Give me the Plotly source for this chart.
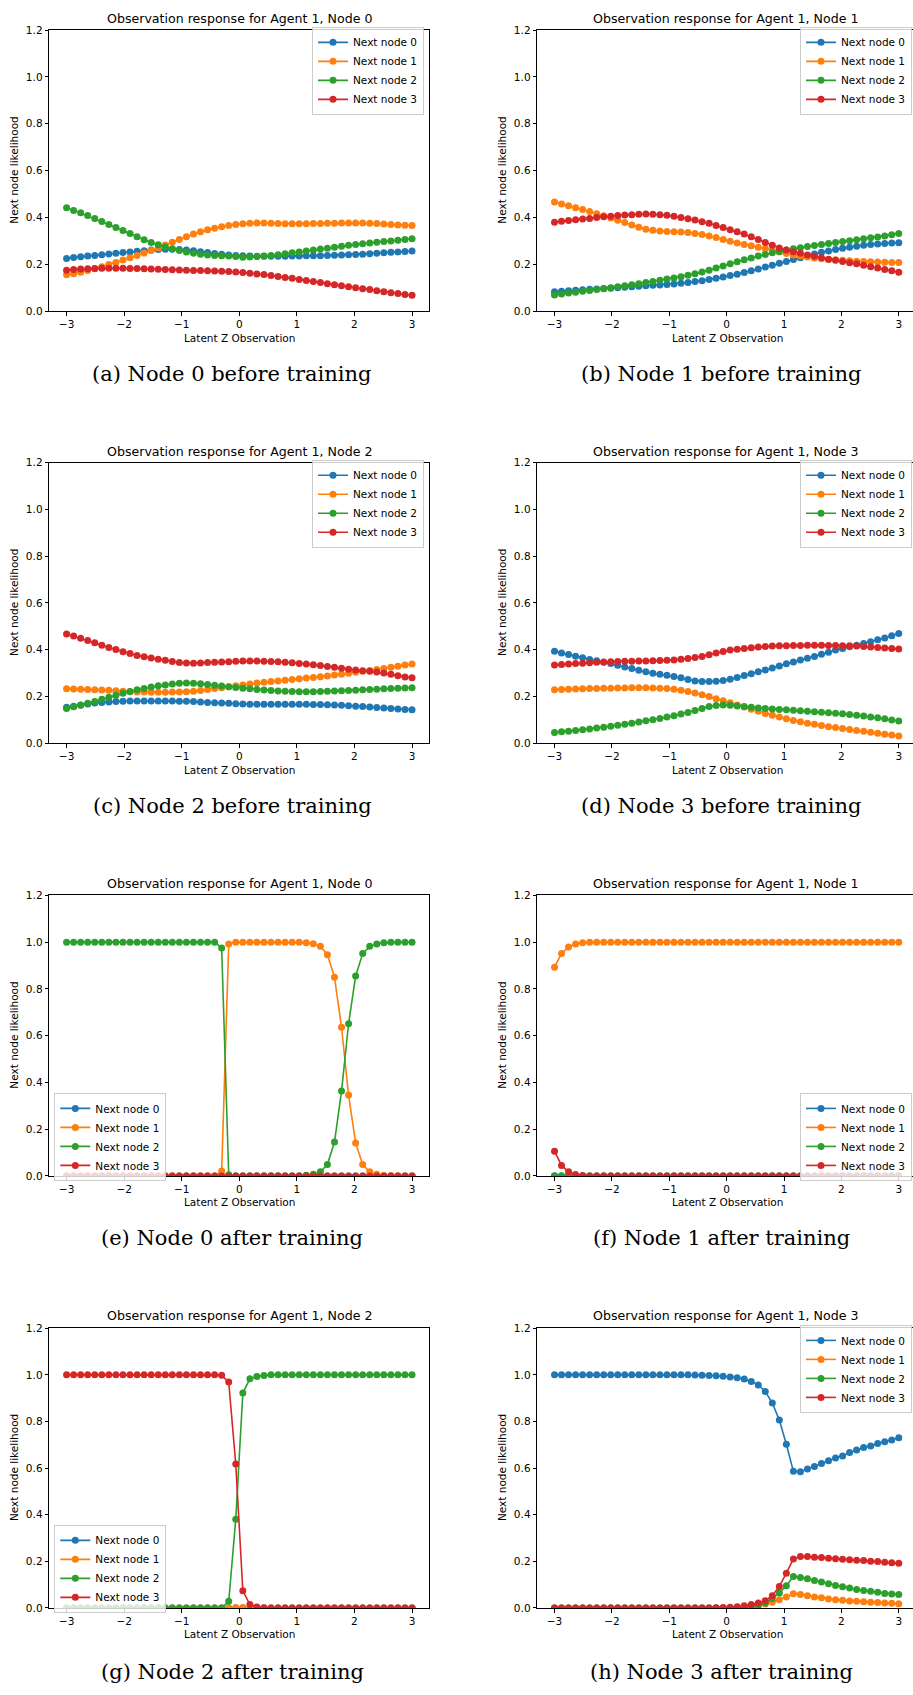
import numpy as np
import plotly.graph_objects as go

# ---------------- data ----------------
Z = np.linspace(-3, 3, 50)  # latent Z observation grid

SERIES_NAMES = ["Next node 0", "Next node 1", "Next node 2", "Next node 3"]
COLORS = ["#1f77b4", "#ff7f0e", "#2ca02c", "#d62728"]

TITLES = [
    "Observation response for Agent 1, Node 0",
    "Observation response for Agent 1, Node 1",
    "Observation response for Agent 1, Node 2",
    "Observation response for Agent 1, Node 3",
    "Observation response for Agent 1, Node 0",
    "Observation response for Agent 1, Node 1",
    "Observation response for Agent 1, Node 2",
    "Observation response for Agent 1, Node 3",
]
CAPTIONS = [
    "(a) Node 0 before training",
    "(b) Node 1 before training",
    "(c) Node 2 before training",
    "(d) Node 3 before training",
    "(e) Node 0 after training",
    "(f) Node 1 after training",
    "(g) Node 2 after training",
    "(h) Node 3 after training",
]
X_TICKS = [-3, -2, -1, 0, 1, 2, 3]
Y_TICKS = [0.0, 0.2, 0.4, 0.6, 0.8, 1.0, 1.2]
X_LABEL = "Latent Z Observation"
Y_LABEL = "Next node likelihood"

# (a) Node 0 before training
a_next0 = [0.225, 0.229, 0.232, 0.235, 0.238, 0.241, 0.244, 0.247, 0.250, 0.253,
           0.256, 0.258, 0.261, 0.263, 0.264, 0.264, 0.263, 0.261, 0.258, 0.254,
           0.250, 0.246, 0.243, 0.240, 0.238, 0.236, 0.235, 0.234, 0.234, 0.234,
           0.234, 0.234, 0.235, 0.235, 0.236, 0.236, 0.237, 0.238, 0.239, 0.240,
           0.241, 0.242, 0.243, 0.245, 0.247, 0.249, 0.251, 0.253, 0.255, 0.257]
a_next1 = [0.155, 0.160, 0.166, 0.173, 0.181, 0.190, 0.199, 0.208, 0.218, 0.228,
           0.238, 0.248, 0.259, 0.270, 0.282, 0.294, 0.306, 0.318, 0.329, 0.339,
           0.347, 0.354, 0.360, 0.366, 0.370, 0.373, 0.375, 0.376, 0.376, 0.375,
           0.374, 0.373, 0.373, 0.373, 0.373, 0.374, 0.374, 0.375, 0.375, 0.376,
           0.376, 0.376, 0.376, 0.375, 0.374, 0.372, 0.370, 0.368, 0.367, 0.366]
a_next2 = [0.442, 0.430, 0.420, 0.408, 0.396, 0.383, 0.370, 0.357, 0.344, 0.331,
           0.318, 0.305, 0.293, 0.283, 0.274, 0.266, 0.259, 0.252, 0.247, 0.243,
           0.240, 0.238, 0.236, 0.235, 0.233, 0.230, 0.231, 0.233, 0.235, 0.238,
           0.241, 0.245, 0.249, 0.253, 0.257, 0.261, 0.265, 0.269, 0.273, 0.277,
           0.281, 0.285, 0.288, 0.291, 0.294, 0.297, 0.300, 0.303, 0.306, 0.309]
a_next3 = [0.175, 0.178, 0.180, 0.181, 0.182, 0.183, 0.183, 0.183, 0.183, 0.182,
           0.182, 0.181, 0.180, 0.179, 0.178, 0.177, 0.176, 0.175, 0.174, 0.173,
           0.172, 0.171, 0.170, 0.169, 0.167, 0.165, 0.162, 0.159, 0.156, 0.152,
           0.148, 0.144, 0.140, 0.135, 0.131, 0.126, 0.122, 0.117, 0.113, 0.108,
           0.104, 0.100, 0.096, 0.092, 0.087, 0.083, 0.079, 0.075, 0.071, 0.068]

# (b) Node 1 before training
b_next0 = [0.083, 0.085, 0.087, 0.089, 0.091, 0.093, 0.095, 0.097, 0.098, 0.100,
           0.102, 0.104, 0.106, 0.108, 0.110, 0.112, 0.114, 0.116, 0.119, 0.122,
           0.126, 0.130, 0.135, 0.140, 0.146, 0.152, 0.158, 0.165, 0.172, 0.180,
           0.188, 0.196, 0.204, 0.212, 0.220, 0.228, 0.236, 0.244, 0.251, 0.257,
           0.263, 0.268, 0.273, 0.277, 0.281, 0.284, 0.287, 0.289, 0.291, 0.292]
b_next1 = [0.466, 0.458, 0.450, 0.442, 0.434, 0.425, 0.416, 0.407, 0.398, 0.388,
           0.378, 0.368, 0.358, 0.350, 0.345, 0.342, 0.340, 0.339, 0.338, 0.336,
           0.332, 0.327, 0.321, 0.314, 0.306, 0.298, 0.291, 0.285, 0.279, 0.273,
           0.267, 0.260, 0.253, 0.246, 0.240, 0.235, 0.231, 0.227, 0.224, 0.221,
           0.219, 0.217, 0.215, 0.213, 0.212, 0.211, 0.210, 0.209, 0.208, 0.208]
b_next2 = [0.069, 0.073, 0.077, 0.081, 0.085, 0.088, 0.092, 0.096, 0.100, 0.104,
           0.108, 0.113, 0.117, 0.122, 0.127, 0.132, 0.137, 0.142, 0.147, 0.153,
           0.160, 0.167, 0.175, 0.184, 0.193, 0.202, 0.211, 0.219, 0.227, 0.235,
           0.242, 0.249, 0.255, 0.261, 0.266, 0.271, 0.276, 0.280, 0.285, 0.289,
           0.293, 0.297, 0.301, 0.305, 0.309, 0.313, 0.317, 0.321, 0.326, 0.331]
b_next3 = [0.380, 0.384, 0.387, 0.390, 0.393, 0.396, 0.400, 0.403, 0.405, 0.408,
           0.410, 0.412, 0.414, 0.415, 0.414, 0.412, 0.409, 0.405, 0.400, 0.395,
           0.389, 0.382, 0.375, 0.366, 0.357, 0.348, 0.339, 0.329, 0.318, 0.306,
           0.293, 0.281, 0.270, 0.261, 0.254, 0.247, 0.240, 0.234, 0.228, 0.222,
           0.217, 0.212, 0.207, 0.202, 0.196, 0.190, 0.184, 0.178, 0.172, 0.166]

# (c) Node 2 before training
c_next0 = [0.153, 0.158, 0.163, 0.167, 0.171, 0.174, 0.176, 0.178, 0.179, 0.180,
           0.180, 0.180, 0.180, 0.180, 0.180, 0.180, 0.179, 0.179, 0.178, 0.176,
           0.174, 0.172, 0.171, 0.170, 0.168, 0.167, 0.166, 0.166, 0.166, 0.166,
           0.166, 0.166, 0.166, 0.166, 0.166, 0.165, 0.165, 0.164, 0.163, 0.162,
           0.160, 0.158, 0.156, 0.154, 0.152, 0.150, 0.148, 0.146, 0.144, 0.143]
c_next1 = [0.232, 0.231, 0.230, 0.229, 0.228, 0.227, 0.226, 0.224, 0.222, 0.220,
           0.219, 0.218, 0.217, 0.217, 0.217, 0.218, 0.219, 0.220, 0.222, 0.225,
           0.229, 0.233, 0.237, 0.241, 0.245, 0.249, 0.253, 0.257, 0.260, 0.263,
           0.266, 0.269, 0.272, 0.275, 0.278, 0.281, 0.284, 0.287, 0.291, 0.295,
           0.299, 0.303, 0.307, 0.311, 0.315, 0.319, 0.324, 0.329, 0.334, 0.338]
c_next2 = [0.148, 0.155, 0.162, 0.170, 0.178, 0.187, 0.196, 0.205, 0.213, 0.221,
           0.228, 0.234, 0.240, 0.245, 0.249, 0.253, 0.256, 0.257, 0.256, 0.254,
           0.251, 0.247, 0.244, 0.241, 0.238, 0.235, 0.232, 0.229, 0.227, 0.225,
           0.223, 0.222, 0.221, 0.220, 0.220, 0.220, 0.221, 0.222, 0.223, 0.224,
           0.225, 0.226, 0.228, 0.229, 0.230, 0.232, 0.233, 0.235, 0.236, 0.237]
c_next3 = [0.467, 0.458, 0.449, 0.439, 0.429, 0.419, 0.409, 0.400, 0.391, 0.383,
           0.375, 0.369, 0.364, 0.359, 0.354, 0.349, 0.345, 0.343, 0.342, 0.343,
           0.345, 0.346, 0.347, 0.348, 0.350, 0.351, 0.351, 0.351, 0.350, 0.349,
           0.348, 0.346, 0.344, 0.341, 0.338, 0.335, 0.332, 0.328, 0.324, 0.320,
           0.316, 0.313, 0.310, 0.307, 0.304, 0.300, 0.294, 0.288, 0.283, 0.279]

# (d) Node 3 before training
d_next0 = [0.393, 0.386, 0.379, 0.372, 0.365, 0.358, 0.352, 0.346, 0.340, 0.333,
           0.326, 0.319, 0.312, 0.305, 0.299, 0.294, 0.290, 0.285, 0.279, 0.272,
           0.266, 0.263, 0.263, 0.265, 0.268, 0.273, 0.281, 0.289, 0.297, 0.305,
           0.313, 0.321, 0.330, 0.339, 0.347, 0.355, 0.363, 0.371, 0.380, 0.389,
           0.398, 0.405, 0.412, 0.419, 0.426, 0.434, 0.442, 0.450, 0.459, 0.469]
d_next1 = [0.228, 0.229, 0.230, 0.231, 0.232, 0.233, 0.234, 0.235, 0.235, 0.236,
           0.236, 0.237, 0.237, 0.237, 0.236, 0.235, 0.233, 0.230, 0.226, 0.221,
           0.214, 0.207, 0.199, 0.190, 0.181, 0.172, 0.163, 0.154, 0.145, 0.136,
           0.127, 0.119, 0.111, 0.104, 0.097, 0.091, 0.085, 0.080, 0.075, 0.070,
           0.066, 0.062, 0.058, 0.054, 0.050, 0.046, 0.042, 0.038, 0.034, 0.030]
d_next2 = [0.045, 0.048, 0.051, 0.054, 0.057, 0.060, 0.064, 0.068, 0.072, 0.076,
           0.080, 0.085, 0.090, 0.095, 0.100, 0.105, 0.111, 0.117, 0.124, 0.131,
           0.139, 0.148, 0.156, 0.161, 0.163, 0.162, 0.159, 0.156, 0.153, 0.150,
           0.148, 0.146, 0.144, 0.142, 0.140, 0.138, 0.136, 0.134, 0.132, 0.130,
           0.128, 0.125, 0.122, 0.119, 0.116, 0.112, 0.108, 0.104, 0.099, 0.094]
d_next3 = [0.334, 0.336, 0.338, 0.340, 0.342, 0.344, 0.346, 0.347, 0.348, 0.349,
           0.350, 0.350, 0.351, 0.351, 0.352, 0.353, 0.354, 0.356, 0.359, 0.362,
           0.366, 0.371, 0.378, 0.385, 0.392, 0.398, 0.402, 0.405, 0.408, 0.411,
           0.413, 0.415, 0.416, 0.417, 0.418, 0.418, 0.419, 0.419, 0.419, 0.418,
           0.418, 0.417, 0.416, 0.415, 0.413, 0.411, 0.409, 0.407, 0.405, 0.403]

# (e) Node 0 after training
e_next0 = [0.000, 0.000, 0.000, 0.000, 0.000, 0.000, 0.000, 0.000, 0.000, 0.000,
           0.000, 0.000, 0.000, 0.000, 0.000, 0.000, 0.000, 0.000, 0.000, 0.000,
           0.000, 0.000, 0.000, 0.000, 0.000, 0.000, 0.000, 0.000, 0.000, 0.000,
           0.000, 0.000, 0.000, 0.000, 0.000, 0.000, 0.000, 0.000, 0.000, 0.000,
           0.000, 0.000, 0.000, 0.000, 0.000, 0.000, 0.000, 0.000, 0.000, 0.000]
e_next1 = [0.000, 0.000, 0.000, 0.000, 0.000, 0.000, 0.000, 0.000, 0.000, 0.000,
           0.000, 0.000, 0.000, 0.000, 0.000, 0.000, 0.000, 0.000, 0.000, 0.000,
           0.000, 0.000, 0.021, 0.992, 1.000, 1.000, 1.000, 1.000, 1.000, 1.000,
           1.000, 1.000, 1.000, 1.000, 0.997, 0.993, 0.982, 0.946, 0.850, 0.636,
           0.346, 0.141, 0.049, 0.018, 0.007, 0.002, 0.001, 0.000, 0.000, 0.000]
e_next2 = [1.000, 1.000, 1.000, 1.000, 1.000, 1.000, 1.000, 1.000, 1.000, 1.000,
           1.000, 1.000, 1.000, 1.000, 1.000, 1.000, 1.000, 1.000, 1.000, 1.000,
           1.000, 1.000, 0.975, 0.005, 0.000, 0.000, 0.000, 0.000, 0.000, 0.000,
           0.000, 0.000, 0.000, 0.000, 0.003, 0.007, 0.018, 0.049, 0.145, 0.363,
           0.651, 0.855, 0.951, 0.982, 0.992, 0.997, 0.999, 1.000, 1.000, 1.000]
e_next3 = [0.000, 0.000, 0.000, 0.000, 0.000, 0.000, 0.000, 0.000, 0.000, 0.000,
           0.000, 0.000, 0.000, 0.000, 0.000, 0.000, 0.000, 0.000, 0.000, 0.000,
           0.000, 0.000, 0.000, 0.000, 0.000, 0.000, 0.000, 0.000, 0.000, 0.000,
           0.000, 0.000, 0.000, 0.000, 0.000, 0.000, 0.000, 0.000, 0.000, 0.000,
           0.000, 0.000, 0.000, 0.000, 0.000, 0.000, 0.000, 0.000, 0.000, 0.000]

# (f) Node 1 after training
f_next0 = [0.000, 0.000, 0.000, 0.000, 0.000, 0.000, 0.000, 0.000, 0.000, 0.000,
           0.000, 0.000, 0.000, 0.000, 0.000, 0.000, 0.000, 0.000, 0.000, 0.000,
           0.000, 0.000, 0.000, 0.000, 0.000, 0.000, 0.000, 0.000, 0.000, 0.000,
           0.000, 0.000, 0.000, 0.000, 0.000, 0.000, 0.000, 0.000, 0.000, 0.000,
           0.000, 0.000, 0.000, 0.000, 0.000, 0.000, 0.000, 0.000, 0.000, 0.000]
f_next1 = [0.893, 0.951, 0.979, 0.992, 0.997, 1.000, 1.000, 1.000, 1.000, 1.000,
           1.000, 1.000, 1.000, 1.000, 1.000, 1.000, 1.000, 1.000, 1.000, 1.000,
           1.000, 1.000, 1.000, 1.000, 1.000, 1.000, 1.000, 1.000, 1.000, 1.000,
           1.000, 1.000, 1.000, 1.000, 1.000, 1.000, 1.000, 1.000, 1.000, 1.000,
           1.000, 1.000, 1.000, 1.000, 1.000, 1.000, 1.000, 1.000, 1.000, 1.000]
f_next2 = [0.001, 0.001, 0.000, 0.000, 0.000, 0.000, 0.000, 0.000, 0.000, 0.000,
           0.000, 0.000, 0.000, 0.000, 0.000, 0.000, 0.000, 0.000, 0.000, 0.000,
           0.000, 0.000, 0.000, 0.000, 0.000, 0.000, 0.000, 0.000, 0.000, 0.000,
           0.000, 0.000, 0.000, 0.000, 0.000, 0.000, 0.000, 0.000, 0.000, 0.000,
           0.000, 0.000, 0.000, 0.000, 0.000, 0.000, 0.000, 0.000, 0.000, 0.000]
f_next3 = [0.106, 0.045, 0.018, 0.006, 0.002, 0.000, 0.000, 0.000, 0.000, 0.000,
           0.000, 0.000, 0.000, 0.000, 0.000, 0.000, 0.000, 0.000, 0.000, 0.000,
           0.000, 0.000, 0.000, 0.000, 0.000, 0.000, 0.000, 0.000, 0.000, 0.000,
           0.000, 0.000, 0.000, 0.000, 0.000, 0.000, 0.000, 0.000, 0.000, 0.000,
           0.000, 0.000, 0.000, 0.000, 0.000, 0.000, 0.000, 0.000, 0.000, 0.000]

# (g) Node 2 after training
g_next0 = [0.000, 0.000, 0.000, 0.000, 0.000, 0.000, 0.000, 0.000, 0.000, 0.000,
           0.000, 0.000, 0.000, 0.000, 0.000, 0.000, 0.000, 0.000, 0.000, 0.000,
           0.000, 0.000, 0.000, 0.000, 0.000, 0.000, 0.000, 0.000, 0.000, 0.000,
           0.000, 0.000, 0.000, 0.000, 0.000, 0.000, 0.000, 0.000, 0.000, 0.000,
           0.000, 0.000, 0.000, 0.000, 0.000, 0.000, 0.000, 0.000, 0.000, 0.000]
g_next1 = [0.000, 0.000, 0.000, 0.000, 0.000, 0.000, 0.000, 0.000, 0.000, 0.000,
           0.000, 0.000, 0.000, 0.000, 0.000, 0.000, 0.000, 0.000, 0.000, 0.000,
           0.000, 0.000, 0.000, 0.001, 0.002, 0.002, 0.001, 0.000, 0.000, 0.000,
           0.000, 0.000, 0.000, 0.000, 0.000, 0.000, 0.000, 0.000, 0.000, 0.000,
           0.000, 0.000, 0.000, 0.000, 0.000, 0.000, 0.000, 0.000, 0.000, 0.000]
g_next2 = [0.000, 0.000, 0.000, 0.000, 0.000, 0.000, 0.000, 0.000, 0.000, 0.000,
           0.000, 0.000, 0.000, 0.000, 0.000, 0.000, 0.000, 0.000, 0.000, 0.000,
           0.000, 0.000, 0.000, 0.028, 0.380, 0.922, 0.983, 0.993, 0.997, 1.000,
           1.000, 1.000, 1.000, 1.000, 1.000, 1.000, 1.000, 1.000, 1.000, 1.000,
           1.000, 1.000, 1.000, 1.000, 1.000, 1.000, 1.000, 1.000, 1.000, 1.000]
g_next3 = [1.000, 1.000, 1.000, 1.000, 1.000, 1.000, 1.000, 1.000, 1.000, 1.000,
           1.000, 1.000, 1.000, 1.000, 1.000, 1.000, 1.000, 1.000, 1.000, 1.000,
           1.000, 1.000, 0.998, 0.969, 0.617, 0.074, 0.014, 0.004, 0.001, 0.000,
           0.000, 0.000, 0.000, 0.000, 0.000, 0.000, 0.000, 0.000, 0.000, 0.000,
           0.000, 0.000, 0.000, 0.000, 0.000, 0.000, 0.000, 0.000, 0.000, 0.000]

# (h) Node 3 after training
h_next0 = [1.000, 1.000, 1.000, 1.000, 1.000, 1.000, 1.000, 1.000, 1.000, 1.000,
           1.000, 1.000, 1.000, 1.000, 1.000, 1.000, 1.000, 1.000, 1.000, 1.000,
           0.999, 0.998, 0.997, 0.996, 0.994, 0.991, 0.988, 0.982, 0.972, 0.957,
           0.929, 0.879, 0.806, 0.702, 0.586, 0.584, 0.596, 0.607, 0.620, 0.631,
           0.643, 0.652, 0.667, 0.678, 0.688, 0.695, 0.705, 0.713, 0.721, 0.730]
h_next1 = [0.000, 0.000, 0.000, 0.000, 0.000, 0.000, 0.000, 0.000, 0.000, 0.000,
           0.000, 0.000, 0.000, 0.000, 0.000, 0.000, 0.000, 0.000, 0.000, 0.000,
           0.000, 0.000, 0.000, 0.000, 0.000, 0.000, 0.001, 0.002, 0.003, 0.006,
           0.017, 0.024, 0.035, 0.047, 0.061, 0.057, 0.052, 0.047, 0.043, 0.038,
           0.035, 0.033, 0.030, 0.028, 0.026, 0.024, 0.023, 0.021, 0.020, 0.018]
h_next2 = [0.000, 0.000, 0.000, 0.000, 0.000, 0.000, 0.000, 0.000, 0.000, 0.000,
           0.000, 0.000, 0.000, 0.000, 0.000, 0.000, 0.000, 0.000, 0.000, 0.000,
           0.000, 0.000, 0.000, 0.000, 0.000, 0.000, 0.002, 0.004, 0.007, 0.012,
           0.021, 0.040, 0.064, 0.095, 0.135, 0.130, 0.125, 0.118, 0.111, 0.104,
           0.096, 0.091, 0.085, 0.079, 0.075, 0.071, 0.067, 0.062, 0.060, 0.057]
h_next3 = [0.000, 0.000, 0.000, 0.000, 0.000, 0.000, 0.000, 0.000, 0.000, 0.000,
           0.000, 0.000, 0.000, 0.000, 0.000, 0.000, 0.000, 0.000, 0.000, 0.000,
           0.000, 0.000, 0.000, 0.001, 0.002, 0.003, 0.005, 0.009, 0.014, 0.021,
           0.031, 0.052, 0.092, 0.149, 0.210, 0.220, 0.220, 0.217, 0.216, 0.213,
           0.211, 0.209, 0.207, 0.204, 0.203, 0.200, 0.199, 0.196, 0.194, 0.191]

PANELS = [
    [a_next0, a_next1, a_next2, a_next3],
    [b_next0, b_next1, b_next2, b_next3],
    [c_next0, c_next1, c_next2, c_next3],
    [d_next0, d_next1, d_next2, d_next3],
    [e_next0, e_next1, e_next2, e_next3],
    [f_next0, f_next1, f_next2, f_next3],
    [g_next0, g_next1, g_next2, g_next3],
    [h_next0, h_next1, h_next2, h_next3],
]

# ---------------- layout (pixel geometry) ----------------
W, H = 913, 1695
FONT = "DejaVu Sans"
SERIF = "DejaVu Serif"

COLS = [
    dict(left=49.3, right=429.3, xrange=[-3.3, 3.3], center=239.3, xlab=239.2, cap=232.5, ylab=14.0),
    dict(left=537.3, right=913.0, xrange=[-3.3, 3.248], center=725.0, xlab=727.2, cap=721.3, ylab=502.0),
]
ROWS = [
    dict(top=24.3, bottom=307.3, title=12.7, xlab=334.0, cap=370.5),
    dict(top=460.0, bottom=742.3, title=449.0, xlab=769.0, cap=805.5),
    dict(top=895.7, bottom=1178.3, title=884.0, xlab=1205.0, cap=1240.5),
    dict(top=1331.7, bottom=1613.3, title=1319.3, xlab=1640.0, cap=1678.0),
]
# legend placement: (x px, y px, xanchor, yanchor)
LEGENDS = [
    (424.0, 21.0, "right", "top"),
    (912.0, 21.0, "right", "top"),
    (424.0, 457.0, "right", "top"),
    (912.0, 457.0, "right", "top"),
    (54.3, 1183.3, "left", "bottom"),
    (912.0, 1183.3, "right", "bottom"),
    (54.3, 1618.3, "left", "bottom"),
    (912.0, 1328.3, "right", "top"),
]


def px(x):
    return x / W


def py(y):
    return 1 - y / H


fig = go.Figure()
layout = dict(
    width=W, height=H,
    margin=dict(l=0, r=0, t=0, b=0),
    paper_bgcolor="white", plot_bgcolor="white",
    font=dict(family=FONT, size=10.5, color="black"),
    showlegend=True,
)
annotations = []

for p, series in enumerate(PANELS):
    r, c = divmod(p, 2)
    col, row = COLS[c], ROWS[r]
    k = p + 1
    xa = "x" if k == 1 else f"x{k}"
    ya = "y" if k == 1 else f"y{k}"
    leg = "legend" if k == 1 else f"legend{k}"
    for s in range(4):
        fig.add_trace(go.Scatter(
            x=Z, y=series[s], name=SERIES_NAMES[s], mode="lines+markers",
            line=dict(color=COLORS[s], width=1.6),
            marker=dict(color=COLORS[s], size=7),
            xaxis=xa, yaxis=ya, legend=leg,
        ))
    axis_common = dict(
        showline=True, linecolor="black", linewidth=0.85,
        ticks="outside", ticklen=3.7, tickwidth=0.85, tickcolor="black",
        showgrid=False, zeroline=False,
        tickfont=dict(family=FONT, size=10.5, color="black"),
    )
    layout["xaxis" if k == 1 else f"xaxis{k}"] = dict(
        domain=[px(col["left"]), px(col["right"])],
        range=col["xrange"], tickvals=X_TICKS, anchor=ya,
        mirror=True, **axis_common,
    )
    layout["yaxis" if k == 1 else f"yaxis{k}"] = dict(
        domain=[py(row["bottom"]), py(row["top"])],
        range=[0, 1.2], tickvals=Y_TICKS, tickformat=".1f", anchor=xa,
        mirror=(c == 0), **axis_common,
    )
    lx, ly, xan, yan = LEGENDS[p]
    layout[leg] = dict(
        x=px(lx), y=py(ly), xanchor=xan, yanchor=yan,
        bgcolor="rgba(255,255,255,0.8)", bordercolor="#cccccc", borderwidth=1,
        font=dict(family=FONT, size=10.5, color="black"),
        itemwidth=30, tracegroupgap=0,
    )
    annotations.append(dict(
        text=TITLES[p], x=px(col["center"]), y=py(row["title"]),
        xref="paper", yref="paper", xanchor="center", yanchor="middle",
        showarrow=False, font=dict(family=FONT, size=12.6, color="black"),
    ))
    annotations.append(dict(
        text=X_LABEL, x=px(col["xlab"]), y=py(row["xlab"]),
        xref="paper", yref="paper", xanchor="center", yanchor="middle",
        showarrow=False, font=dict(family=FONT, size=10.5, color="black"),
    ))
    annotations.append(dict(
        text=Y_LABEL, x=px(col["ylab"]), y=py((row["top"] + row["bottom"]) / 2),
        xref="paper", yref="paper", xanchor="center", yanchor="middle",
        textangle=-90, showarrow=False, font=dict(family=FONT, size=10.5, color="black"),
    ))
    annotations.append(dict(
        text=CAPTIONS[p], x=px(col["cap"]), y=py(row["cap"]),
        xref="paper", yref="paper", xanchor="center", yanchor="middle",
        showarrow=False, font=dict(family=SERIF, size=21, color="black"),
    ))

layout["annotations"] = annotations
fig.update_layout(**layout)
fig.write_html("out.html")
